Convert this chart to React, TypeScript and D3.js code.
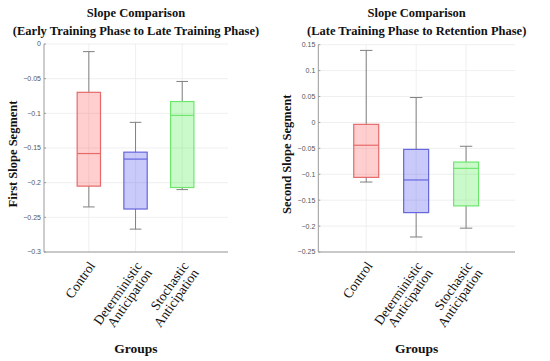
import React, { useEffect, useRef } from "react";
import * as d3 from "d3";

const groups = ["Control", "Deterministic|Anticipation", "Stochastic|Anticipation"];
const boxFill = ["rgba(255,80,80,0.28)", "rgba(90,90,240,0.32)", "rgba(80,240,80,0.3)"];
const boxStroke = ["#e66a6a", "#6666dd", "#6ee66e"];

// First slope segment (Early -> Late training)
const firstUpper = [-0.011, -0.113, -0.054];
const firstQ3 = [-0.0697, -0.156, -0.083];
const firstMedian = [-0.158, -0.166, -0.103];
const firstQ1 = [-0.205, -0.238, -0.207];
const firstLower = [-0.235, -0.267, -0.210];
const firstTicks = [0, -0.05, -0.1, -0.15, -0.2, -0.25, -0.3];

// Second slope segment (Late training -> Retention)
const secondUpper = [0.139, 0.048, -0.046];
const secondQ3 = [-0.0037, -0.052, -0.0765];
const secondMedian = [-0.044, -0.111, -0.0886];
const secondQ1 = [-0.106, -0.174, -0.161];
const secondLower = [-0.115, -0.221, -0.204];
const secondTicks = [0.15, 0.1, 0.05, 0, -0.05, -0.1, -0.15, -0.2, -0.25];

const serif = "'Palatino Linotype', 'Book Antiqua', Palatino, 'Liberation Serif', serif";
const sans = "'Liberation Sans', Arial, sans-serif";

interface Panel {
  x0: number; x1: number; y0: number; y1: number;
  domain: [number, number];
  ticks: number[];
  upper: number[]; q3: number[]; median: number[]; q1: number[]; lower: number[];
  title: string[];
  ylabel: string;
  ylabelX: number;
}

const panels: Panel[] = [
  {
    x0: 44, x1: 228, y0: 44, y1: 252, domain: [-0.3, 0], ticks: firstTicks,
    upper: firstUpper, q3: firstQ3, median: firstMedian, q1: firstQ1, lower: firstLower,
    title: ["Slope Comparison", "(Early Training Phase to Late Training Phase)"],
    ylabel: "First Slope Segment", ylabelX: 13,
  },
  {
    x0: 318.3, x1: 515, y0: 44.7, y1: 252, domain: [-0.25, 0.15], ticks: secondTicks,
    upper: secondUpper, q3: secondQ3, median: secondMedian, q1: secondQ1, lower: secondLower,
    title: ["Slope Comparison", "(Late Training Phase to Retention Phase)"],
    ylabel: "Second Slope Segment", ylabelX: 287,
  },
];

function fmt(v: number): string {
  if (Math.abs(v) < 1e-9) return "0";
  const s = String(+v.toFixed(3));
  return s.replace("-", "\u2212");
}

export default function App() {
  const ref = useRef<SVGSVGElement>(null);
  useEffect(() => {
    const svg = d3.select(ref.current);
    svg.selectAll("*").remove();
    svg.append("rect").attr("width", 550).attr("height", 361).attr("fill", "#fff");

    panels.forEach((p) => {
      const g = svg.append("g");
      const x = d3.scaleLinear().domain([0.04, 3.98]).range([p.x0, p.x1]);
      const y = d3.scaleLinear().domain(p.domain).range([p.y1, p.y0]);
      const idx = [0, 1, 2];

      // grid
      g.selectAll(".hg").data(p.ticks).join("line")
        .attr("x1", p.x0).attr("x2", p.x1)
        .attr("y1", (d) => y(d)).attr("y2", (d) => y(d))
        .attr("stroke", "#ebebeb").attr("stroke-width", 0.8);
      g.selectAll(".vg").data(idx).join("line")
        .attr("x1", (i) => x(i + 1)).attr("x2", (i) => x(i + 1))
        .attr("y1", p.y0).attr("y2", p.y1)
        .attr("stroke", "#ebebeb").attr("stroke-width", 0.8);

      // whiskers
      const wc = "#808080";
      idx.forEach((i) => {
        const cx = x(i + 1);
        g.append("line").attr("x1", cx).attr("x2", cx)
          .attr("y1", y(p.upper[i])).attr("y2", y(p.q3[i])).attr("stroke", wc).attr("stroke-width", 1);
        g.append("line").attr("x1", cx).attr("x2", cx)
          .attr("y1", y(p.q1[i])).attr("y2", y(p.lower[i])).attr("stroke", wc).attr("stroke-width", 1);
        [p.upper[i], p.lower[i]].forEach((v) => {
          g.append("line").attr("x1", x(i + 1 - 0.125)).attr("x2", x(i + 1 + 0.125))
            .attr("y1", y(v)).attr("y2", y(v)).attr("stroke", wc).attr("stroke-width", 1);
        });
      });

      // boxes
      g.selectAll(".box").data(idx).join("rect")
        .attr("x", (i) => x(i + 1 - 0.25))
        .attr("width", (i) => x(i + 1 + 0.25) - x(i + 1 - 0.25))
        .attr("y", (i) => y(p.q3[i]))
        .attr("height", (i) => y(p.q1[i]) - y(p.q3[i]))
        .attr("fill", (i) => boxFill[i])
        .attr("stroke", (i) => boxStroke[i]).attr("stroke-width", 1.2);
      g.selectAll(".med").data(idx).join("line")
        .attr("x1", (i) => x(i + 1 - 0.25)).attr("x2", (i) => x(i + 1 + 0.25))
        .attr("y1", (i) => y(p.median[i])).attr("y2", (i) => y(p.median[i]))
        .attr("stroke", (i) => boxStroke[i]).attr("stroke-width", 1.2);

      // axes
      g.append("line").attr("x1", p.x0).attr("x2", p.x0).attr("y1", p.y0).attr("y2", p.y1)
        .attr("stroke", "#9a9a9a").attr("stroke-width", 1);
      g.append("line").attr("x1", p.x0).attr("x2", p.x1).attr("y1", p.y1).attr("y2", p.y1)
        .attr("stroke", "#9a9a9a").attr("stroke-width", 1);
      g.selectAll(".tk").data(p.ticks).join("line")
        .attr("x1", p.x0).attr("x2", p.x0 + 2)
        .attr("y1", (d) => y(d)).attr("y2", (d) => y(d))
        .attr("stroke", "#9a9a9a");
      g.selectAll(".tl").data(p.ticks).join("text")
        .attr("x", p.x0 - 3).attr("y", (d) => y(d)).attr("dy", "0.35em")
        .attr("text-anchor", "end").attr("font-family", sans).attr("font-size", 7)
        .attr("fill", "#555").text((d) => fmt(d));

      // category labels
      idx.forEach((i) => {
        const lines = groups[i].split("|");
        const lg = g.append("g")
          .attr("transform", `translate(${x(i + 1) + 3},${p.y1 + 11}) rotate(-55)`);
        lines.forEach((ln, k) =>
          lg.append("text").attr("x", 0).attr("y", k * 12.5)
            .attr("dy", "0.35em")
            .attr("font-family", serif).attr("font-size", 13.5).attr("fill", "#111")
            .attr("text-anchor", "end").text(ln)
        );
      });

      // x label
      g.append("text").attr("x", (p.x0 + p.x1) / 2).attr("y", 353)
        .attr("text-anchor", "middle").attr("font-family", serif).attr("font-weight", "bold")
        .attr("font-size", 13.5).attr("fill", "#111").text("Groups");

      // y label
      g.append("text")
        .attr("transform", `translate(${p.ylabelX},${(p.y0 + p.y1) / 2 + 6}) rotate(-90)`)
        .attr("dy", "0.35em")
        .attr("text-anchor", "middle").attr("font-family", serif).attr("font-weight", "bold")
        .attr("font-size", 12.5).attr("fill", "#111").text(p.ylabel);

      // title
      p.title.forEach((t, k) => {
        g.append("text").attr("x", (p.x0 + p.x1) / 2).attr("y", 17 + k * 18)
          .attr("text-anchor", "middle").attr("font-family", serif).attr("font-weight", "bold")
          .attr("font-size", 12.5).attr("fill", "#111").text(t);
      });
    });
  }, []);

  return (
    <svg ref={ref} width={550} height={361}
      style={{ position: "absolute", left: 0, top: 0, display: "block" }} />
  );
}
